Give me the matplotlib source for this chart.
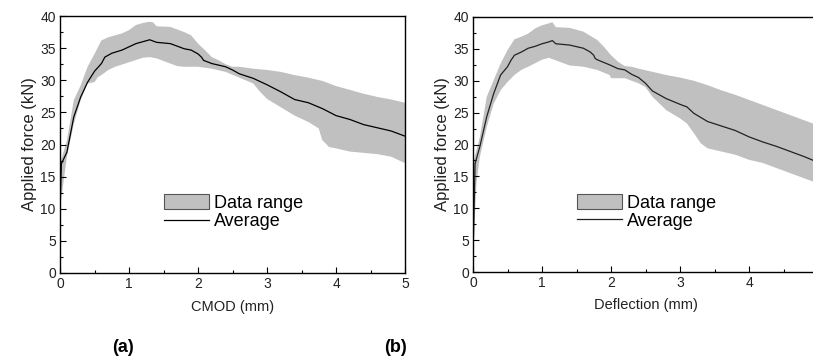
import numpy as np
import matplotlib
matplotlib.use("Agg")
import matplotlib.pyplot as plt
from matplotlib.patches import Patch
from matplotlib.lines import Line2D

plt.rcParams['font.family'] = ['Liberation Sans', 'DejaVu Sans']

# ---------------- Panel (a): CMOD ----------------
a_avg_x = [0, 0.02, 0.1, 0.2, 0.3, 0.4, 0.5, 0.6, 0.65, 0.75, 0.9, 1.0, 1.1, 1.2, 1.3, 1.4, 1.6,
           1.8, 1.9, 2.0, 2.05, 2.08, 2.2, 2.4, 2.5, 2.6, 2.8, 3.0, 3.2, 3.4, 3.6, 3.8, 4.0,
           4.2, 4.4, 4.6, 4.8, 5.0]
a_avg_y = [10.0, 17.0, 18.8, 24.3, 27.4, 29.7, 31.4, 32.6, 33.6, 34.2, 34.7, 35.2, 35.7, 36.0, 36.3,
           35.9, 35.7, 34.9, 34.7, 34.1, 33.6, 33.1, 32.6, 32.1, 31.6, 31.0, 30.3, 29.3, 28.2,
           27.0, 26.5, 25.6, 24.5, 23.9, 23.1, 22.6, 22.1, 21.3]

a_up_x = [0, 0.1, 0.2, 0.3, 0.4, 0.5, 0.6, 0.7, 0.8, 0.9, 1.0, 1.1, 1.2, 1.3, 1.35, 1.4, 1.6, 1.8,
          1.9, 2.0, 2.1, 2.2, 2.3, 2.4, 2.5, 2.6, 2.8, 3.0, 3.2, 3.4, 3.6, 3.8, 4.0, 4.2, 4.4,
          4.6, 4.8, 5.0]
a_up_y = [17.0, 20.6, 26.9, 29.2, 32.1, 34.1, 36.2, 36.7, 37.0, 37.3, 37.8, 38.6, 38.9, 39.1, 39.0,
          38.4, 38.3, 37.5, 37.0, 35.7, 34.7, 33.6, 33.1, 32.5, 32.1, 32.1, 31.8, 31.6, 31.3,
          30.8, 30.4, 29.9, 29.1, 28.5, 27.9, 27.4, 27.0, 26.5]

a_lo_x = [0, 0.1, 0.2, 0.3, 0.4, 0.5, 0.55, 0.6, 0.7, 0.8, 1.0, 1.2, 1.3, 1.4, 1.6, 1.7, 1.8, 2.0,
          2.2, 2.4, 2.6, 2.8, 2.9, 3.0, 3.2, 3.4, 3.6, 3.75, 3.8, 3.9, 4.0, 4.2, 4.4, 4.6,
          4.8, 5.0]
a_lo_y = [10.0, 18.1, 23.2, 26.9, 29.5, 29.7, 30.5, 30.8, 31.6, 32.1, 32.8, 33.5, 33.6, 33.4, 32.6,
          32.2, 32.1, 32.1, 31.8, 31.3, 30.4, 29.5, 28.2, 27.1, 25.8, 24.5, 23.5, 22.5, 20.7,
          19.6, 19.4, 18.9, 18.7, 18.5, 18.1, 17.1]

# ---------------- Panel (b): Deflection ----------------
b_avg_x = [0, 0.03, 0.1, 0.2, 0.3, 0.4, 0.5, 0.55, 0.6, 0.7, 0.8, 0.9, 1.0, 1.1, 1.15, 1.2, 1.4,
           1.6, 1.7, 1.75, 1.77, 1.8, 2.0, 2.1, 2.2, 2.3, 2.4, 2.5, 2.6, 2.7, 2.8, 3.0, 3.1,
           3.2, 3.4, 3.6, 3.8, 4.0, 4.2, 4.4, 4.6, 4.8, 5.0]
b_avg_y = [2.0, 17.0, 19.7, 24.4, 28.0, 30.9, 32.2, 33.2, 34.0, 34.5, 35.1, 35.4, 35.8, 36.1, 36.3,
           35.8, 35.6, 35.1, 34.5, 34.0, 33.5, 33.3, 32.4, 31.9, 31.7, 31.0, 30.5, 29.6, 28.4,
           27.8, 27.2, 26.3, 25.9, 24.9, 23.6, 22.9, 22.2, 21.2, 20.4, 19.7, 18.9, 18.1, 17.2]

b_up_x = [0, 0.1, 0.2, 0.3, 0.4, 0.5, 0.6, 0.7, 0.8, 0.9, 1.0, 1.1, 1.15, 1.2, 1.4, 1.6, 1.8, 1.9,
          2.0, 2.1, 2.2, 2.3, 2.4, 2.6, 2.8, 3.0, 3.2, 3.4, 3.6, 3.8, 4.0, 4.2, 4.4, 4.6,
          4.8, 5.0]
b_up_y = [17.0, 21.2, 27.5, 30.1, 32.7, 34.8, 36.5, 36.9, 37.4, 38.2, 38.7, 39.0, 39.2, 38.4, 38.3,
          37.7, 36.4, 35.3, 34.0, 33.0, 32.3, 32.2, 31.9, 31.4, 30.9, 30.5, 30.0, 29.3, 28.5,
          27.8, 27.0, 26.2, 25.4, 24.6, 23.8, 23.0]

b_lo_x = [0, 0.05, 0.1, 0.2, 0.3, 0.4, 0.5, 0.6, 0.7, 0.8, 1.0, 1.1, 1.2, 1.4, 1.6, 1.8, 1.98, 2.0,
          2.2, 2.4, 2.5, 2.6, 2.8, 3.0, 3.1, 3.2, 3.3, 3.4, 3.6, 3.8, 4.0, 4.2, 4.4, 4.6, 4.8,
          5.0]
b_lo_y = [2.0, 14.0, 18.1, 22.8, 26.4, 28.5, 29.8, 30.9, 31.7, 32.2, 33.3, 33.6, 33.2, 32.4, 32.2,
          31.7, 30.9, 30.4, 30.4, 29.6, 29.0, 27.5, 25.4, 24.1, 23.3, 21.8, 20.2, 19.4, 18.9,
          18.4, 17.6, 17.1, 16.3, 15.5, 14.7, 13.9]

a_x_ticks = [0, 1, 2, 3, 4, 5]
b_x_ticks = [0, 1, 2, 3, 4]
y_ticks = [0, 5, 10, 15, 20, 25, 30, 35, 40]

band_color = '#c0c0c0'

W, H = 813, 364
fig = plt.figure(figsize=(W / 100, H / 100), dpi=100)

panels = [
    dict(pos=[60 / W, 1 - 273 / H, 345 / W, 257 / H], avg=(a_avg_x, a_avg_y),
         up=(a_up_x, a_up_y), lo=(a_lo_x, a_lo_y), xlabel='CMOD (mm)', tag='(a)',
         line_color='black', tag_x=123, xt=a_x_ticks),
    dict(pos=[473 / W, 1 - 272 / H, 345 / W, 255 / H], avg=(b_avg_x, b_avg_y),
         up=(b_up_x, b_up_y), lo=(b_lo_x, b_lo_y), xlabel='Deflection (mm)', tag='(b)',
         line_color='#222222', tag_x=395, xt=b_x_ticks),
]

for p in panels:
    ax = fig.add_axes(p['pos'])
    xu, yu = p['up']
    xl, yl = p['lo']
    ax.fill(np.concatenate([xu, xl[::-1]]), np.concatenate([yu, yl[::-1]]),
            color=band_color, lw=0)
    ax.plot(p['avg'][0], p['avg'][1], color=p['line_color'], lw=0.9)
    ax.set_xlim(0, 5)
    ax.set_ylim(0, 40)
    ax.set_xticks(p['xt'])
    ax.set_yticks(y_ticks)
    ax.set_xticks(np.arange(0.5, 5, 1.0), minor=True)
    ax.set_yticks(np.arange(2.5, 40, 5.0), minor=True)
    ax.tick_params(which='both', direction='in', top=False, right=False,
                   labelsize=10, colors='black', labelcolor='#222222')
    ax.tick_params(which='major', length=4, width=0.8, pad=3)
    ax.tick_params(which='minor', length=2.5, width=0.8)
    for s in ax.spines.values():
        s.set_linewidth(1.0)
        s.set_color('black')
    ax.set_xlabel(p['xlabel'], fontsize=10.5, color='#222222', labelpad=6)
    ax.set_ylabel('Applied force (kN)', fontsize=12, color='#222222', labelpad=2)
    handles = [Patch(facecolor=band_color, edgecolor='#555555', lw=0.8),
               Line2D([0], [0], color=p['line_color'], lw=0.9)]
    ax.legend(handles, ['Data range', 'Average'], loc='upper left',
              bbox_to_anchor=(0.28, 0.335), frameon=False, fontsize=13,
              handlelength=2.5, handleheight=0.9, handletextpad=0.3,
              labelspacing=0.05, borderaxespad=0)
    fig.text(p['tag_x'] / W, 1 - 348 / H, p['tag'], fontsize=13, fontweight='bold',
             ha='center', va='center')

fig.savefig('out.png', dpi=100)
